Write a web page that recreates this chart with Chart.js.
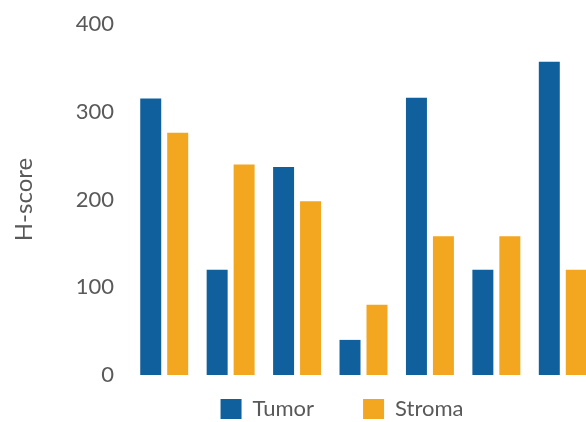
<!DOCTYPE html>
<html>
<head>
<meta charset="utf-8">
<script src="https://cdn.jsdelivr.net/npm/chart.js@4"></script>
<style>
    html, body { margin: 0; padding: 0; background: #ffffff; overflow: hidden; }
    /* the last orange bar runs off the right edge in the original, so the box is a bit wider than the window */
    .chart-box { position: relative; width: 600px; height: 456px; }
</style>
</head>
<body>
<div class="chart-box"><canvas id="hscoreChart"></canvas></div>
<script>
// ====== DATA ======
const groups = ['1', '2', '3', '4', '5', '6', '7'];
const tumorScores = [315, 120, 237, 40, 316, 120, 357];
const stromaScores = [276, 240, 198, 80, 158, 158, 120];
const yTicks = [0, 100, 200, 300, 400];

document.addEventListener('DOMContentLoaded', () => {
    const colors = {
        tumor: '#11609e',
        stroma: '#f3a61f',
        text: '#595959',
    };

    // labels.padding sets both the gap between legend items and the top offset,
    // so move the legend row back up under the bars and over to the right after layout
    const legendNudge = {
        id: 'legendNudge',
        afterLayout(chart) {
            const lg = chart.legend;
            if (!lg) return;
            lg.top -= 26;
            lg.bottom -= 26;
            lg.left += 44;
            lg.right += 44;
        }
    };

    const ctx = document.getElementById('hscoreChart');
    new Chart(ctx, {
        type: 'bar',
        data: {
            labels: groups,
            datasets: [{
                label: 'Tumor',
                data: tumorScores,
                backgroundColor: colors.tumor,
                borderWidth: 0,
                categoryPercentage: 0.812,
                barPercentage: 0.778,
            }, {
                label: 'Stroma',
                data: stromaScores,
                backgroundColor: colors.stroma,
                borderWidth: 0,
                categoryPercentage: 0.812,
                barPercentage: 0.778,
            }]
        },
        options: {
            responsive: true,
            maintainAspectRatio: false,
            animation: false,
            layout: {
                padding: { top: 24, right: 4, bottom: 0, left: 0 }
            },
            plugins: {
                legend: {
                    position: 'bottom',
                    labels: {
                        boxWidth: 21,
                        boxHeight: 20,
                        padding: 49,
                        color: colors.text,
                        font: { family: 'Lato', size: 22 }
                    }
                },
                tooltip: { enabled: false }
            },
            scales: {
                x: {
                    display: false,
                    grid: { display: false }
                },
                y: {
                    min: 0,
                    max: 400,
                    afterBuildTicks: (scale) => {
                        scale.ticks = yTicks.map(v => ({ value: v }));
                    },
                    afterFit: (scale) => {
                        scale.width = 131;
                    },
                    // hidden grid, but the tick length still pushes the labels off the bars
                    grid: { display: false, drawTicks: true, tickLength: 17 },
                    border: { display: false },
                    ticks: {
                        padding: 0,
                        color: colors.text,
                        font: { family: 'Lato', size: 22 }
                    },
                    title: {
                        display: true,
                        text: 'H-score',
                        color: colors.text,
                        padding: { top: 10, bottom: 0 },
                        font: { family: 'Lato', size: 24 }
                    }
                }
            }
        },
        plugins: [legendNudge]
    });
});
</script>
</body>
</html>
